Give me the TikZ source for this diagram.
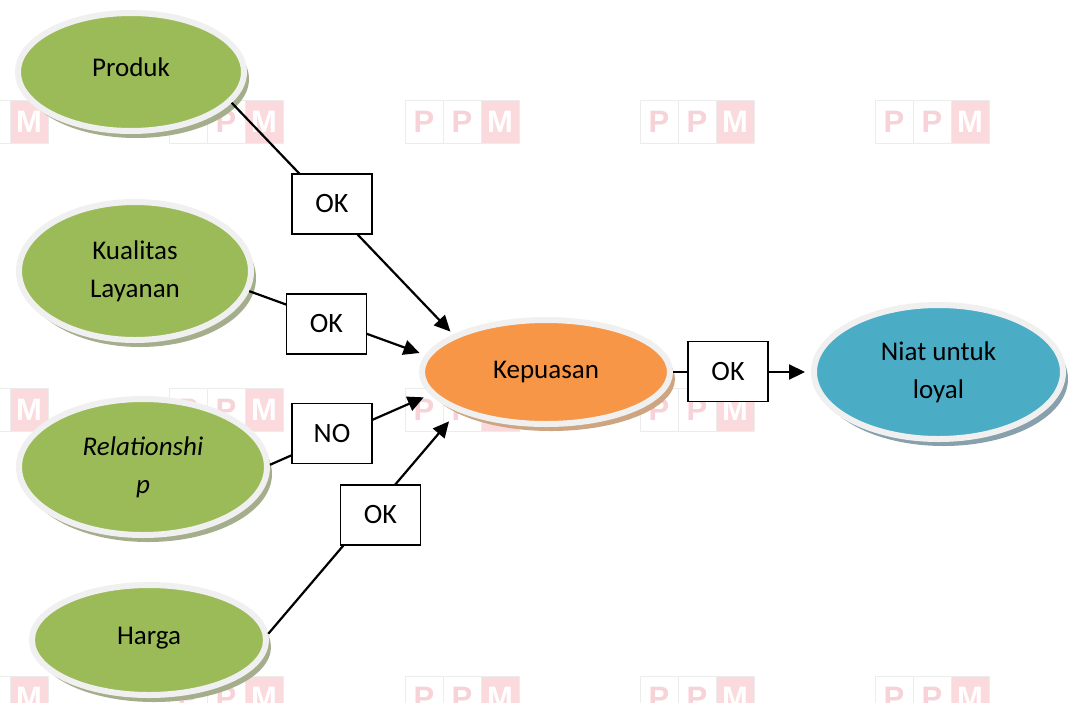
\documentclass[tikz,border=0pt]{standalone}
\usepackage{fontspec}
\setmainfont{Carlito}
\newfontfamily\wmfont{Liberation Sans}
\usetikzlibrary{shapes.geometric,shadows,arrows.meta}
\definecolor{grn}{RGB}{155,187,89}
\definecolor{org}{RGB}{247,150,70}
\definecolor{blu}{RGB}{75,172,198}
\definecolor{rim}{RGB}{240,240,240}
\definecolor{shgrn}{RGB}{165,174,140}
\definecolor{shorg}{RGB}{205,165,130}
\definecolor{shblu}{RGB}{135,160,172}
\definecolor{wmpink}{RGB}{250,218,221}
\definecolor{wmtxt}{RGB}{247,210,214}
\definecolor{wmline}{RGB}{236,236,236}
\newcommand\wmark[2]{%
  \begin{scope}[shift={(#1,#2)}]
    \fill[wmpink] (76,0) rectangle (114,43);
    \draw[wmline, line width=0.8pt] (0,0) rectangle (114,43) (38,0) -- (38,43) (76,0) -- (76,43);
    \node[wmtxtstyle, text=wmtxt] at (19,21.5) {P};
    \node[wmtxtstyle, text=wmtxt] at (57,21.5) {P};
    \node[wmtxtstyle, text=white] at (95,21.5) {M};
  \end{scope}}
\begin{document}
\begin{tikzpicture}[x=1pt,y=-1pt,
  wmtxtstyle/.style={font=\wmfont\bfseries\fontsize{31}{31}\selectfont, inner sep=0pt},
  oval/.style={ellipse, draw=rim, line width=6pt, inner sep=0pt, align=center,
    font=\fontsize{27}{38}\selectfont},
  greenoval/.style={oval, fill=grn, drop shadow={shadow xshift=5pt, shadow yshift=-7pt, fill=shgrn, opacity=1}},
  orangeoval/.style={oval, fill=org, drop shadow={shadow xshift=5pt, shadow yshift=-7pt, fill=shorg, opacity=1}},
  blueoval/.style={oval, fill=blu, drop shadow={shadow xshift=5pt, shadow yshift=-7pt, fill=shblu, opacity=1}},
  okbox/.style={draw, line width=1.8pt, fill=white, minimum width=80pt, minimum height=60pt,
    inner sep=0pt, font=\fontsize{28}{30}\selectfont},
  conn/.style={line width=2.2pt},
  arr/.style={conn, -{Triangle[length=16pt,width=15pt]}}
]
\useasboundingbox (0,0) rectangle (1071,702);
\fill[white] (0,0) rectangle (1071,702);

% watermarks
\foreach \wy in {100,388,676}{
  \foreach \wx in {-66,169,405,640,875}{
    \wmark{\wx}{\wy}
  }
}

% ovals
\node[greenoval, minimum width=226pt, minimum height=118pt] (produk) at (131,72) {\raisebox{9pt}{Produk}};
\node[greenoval, minimum width=232pt, minimum height=138pt] (kualitas) at (135,271) {Kualitas\\Layanan};
\node[greenoval, minimum width=248pt, minimum height=136pt] (rel) at (143,467) {\textit{Relationshi}\\\textit{p}};
\node[greenoval, minimum width=234pt, minimum height=110pt] (harga) at (149,640) {\raisebox{8pt}{Harga}};
\node[orangeoval, minimum width=248pt, minimum height=104pt] (kep) at (546,372) {Kepuasan};
\node[blueoval, minimum width=249pt, minimum height=134pt] (niat) at (938.5,372) {Niat untuk\\loyal};

% connectors
\draw[arr, shorten >=4pt] (produk.-17.8) -- (kep.158.3);
\draw[arr, shorten >=6pt] (kualitas.-10.6) -- (kep.172.5);
\draw[arr, shorten >=7pt] (rel.1.8) -- (kep.191.95);
\draw[arr, shorten >=13pt] (harga.3.4) -- (kep.204.6);
\draw[arr, shorten >=6pt] (kep.east) -- (niat.west);

% labels
\node[okbox] (ok1) at (332,204) {OK};
\node[okbox] (ok2) at (326.5,324) {OK};
\node[okbox] (no) at (332,433.5) {NO};
\node[okbox] (ok4) at (380.5,515) {OK};
\node[okbox] (ok5) at (728,371.5) {OK};
\end{tikzpicture}
\end{document}
